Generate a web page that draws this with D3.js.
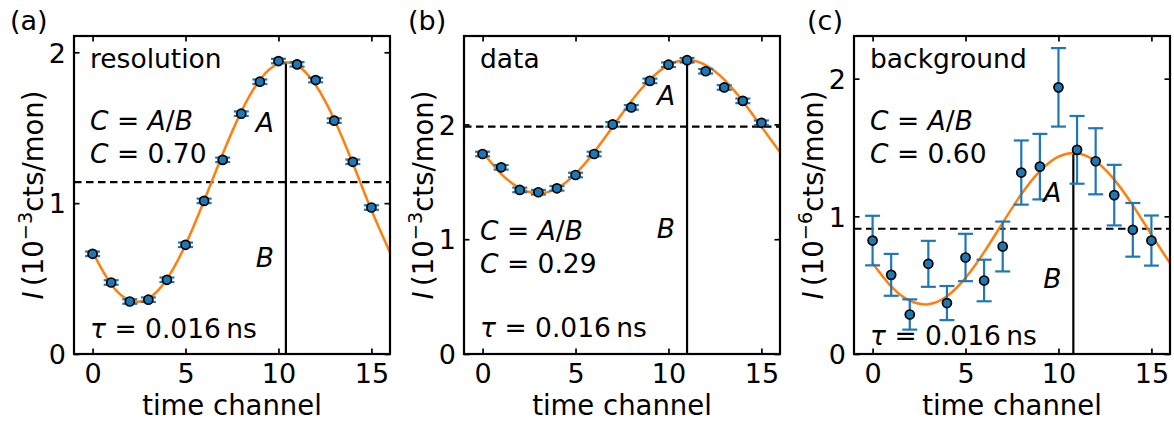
<!DOCTYPE html>
<html>
<head>
<meta charset="utf-8">
<script src="https://cdn.jsdelivr.net/npm/d3@7"></script>
<style>
  html, body { margin: 0; padding: 0; background: #fff; }
  svg { display: block; font-family: "DejaVu Sans", sans-serif; }
</style>
</head>
<body>
<svg id="chart" width="1174" height="423"></svg>
<script>
// ---------------- data ----------------
const channels = [0, 1, 2, 3, 4, 5, 6, 7, 8, 9, 10, 11, 12, 13, 14, 15];

const resolutionValues = [0.664, 0.474, 0.348, 0.360, 0.492, 0.724, 1.015, 1.287, 1.593, 1.805, 1.942, 1.920, 1.816, 1.547, 1.274, 0.971];
const resolutionErrors = [0.015, 0.015, 0.015, 0.015, 0.015, 0.015, 0.015, 0.015, 0.015, 0.015, 0.015, 0.015, 0.015, 0.015, 0.015, 0.015];

const dataValues = [1.742, 1.626, 1.429, 1.409, 1.443, 1.559, 1.742, 2.000, 2.148, 2.379, 2.520, 2.559, 2.463, 2.322, 2.205, 2.014];
const dataErrors = [0.02, 0.02, 0.02, 0.02, 0.02, 0.02, 0.02, 0.02, 0.02, 0.02, 0.02, 0.02, 0.02, 0.02, 0.02, 0.02];

const backgroundValues = [0.824, 0.575, 0.287, 0.655, 0.370, 0.701, 0.534, 0.781, 1.318, 1.361, 1.937, 1.483, 1.400, 1.154, 0.902, 0.824];
const backgroundErrors = [0.180, 0.152, 0.110, 0.167, 0.124, 0.172, 0.151, 0.181, 0.233, 0.238, 0.285, 0.246, 0.240, 0.220, 0.195, 0.182];

// fitted curves, read at integer channels
const fitChannels = [0, 1, 2, 3, 4, 5, 6, 7, 8, 9, 10, 11, 12, 13, 14, 15, 16];
const resolutionFit = [0.676, 0.462, 0.355, 0.367, 0.497, 0.725, 1.016, 1.326, 1.607, 1.818, 1.925, 1.913, 1.783, 1.555, 1.264, 0.954, 0.673];
const dataFit = [1.758, 1.570, 1.444, 1.400, 1.444, 1.570, 1.758, 1.980, 2.202, 2.390, 2.516, 2.560, 2.516, 2.390, 2.202, 1.980, 1.758];
const backgroundFit = [0.660, 0.492, 0.387, 0.362, 0.420, 0.553, 0.740, 0.953, 1.160, 1.328, 1.433, 1.458, 1.400, 1.267, 1.080, 0.867, 0.660];

const meanLevels = [1.14, 1.98, 0.91];        // dashed lines
const peakChannels = [10.4, 11.0, 10.8];      // vertical lines
const peakValues = [1.935, 2.56, 1.46];       // top of vertical lines
const contrastValues = ["0.70", "0.29", "0.60"];
const panelTitles = ["resolution", "data", "background"];
const panelLetters = ["(a)", "(b)", "(c)"];
const unitExponents = ["\u22123", "\u22123", "\u22126"];
const yMaxima = [2.108, 2.77, 2.31];
const xTickValues = [0, 5, 10, 15];
const yTickValues = [0, 1, 2];
const tauText = "0.016";

// ---------------- layout ----------------
const panelLefts = [74, 464, 854];
const panelTop = 36, panelW = 316, panelH = 318;
const letterDx = [-64, -56, -47];
const annot = [
  { cab: [94, 127], tau: 302, A: 96, B: 231 },
  { cab: [204, 237], tau: 301, A: 69, B: 202 },
  { cab: [94, 127], tau: 309, A: 166, B: 252 }
];
const blue = "#1f77b4", orange = "#ff7f0e";
const tickFont = 27, labelFont = 27.5, textFont = 26.5;

const series = [
  { v: resolutionValues, e: resolutionErrors, fit: resolutionFit },
  { v: dataValues, e: dataErrors, fit: dataFit },
  { v: backgroundValues, e: backgroundErrors, fit: backgroundFit }
];

const svg = d3.select("#chart");

series.forEach((s, i) => {
  const g = svg.append("g").attr("transform", `translate(${panelLefts[i]},${panelTop})`);
  const x = d3.scaleLinear().domain([-1, 16]).range([0, panelW]);
  const y = d3.scaleLinear().domain([0, yMaxima[i]]).range([panelH, 0]);

  // reference lines
  g.append("line")
    .attr("x1", 0).attr("x2", panelW)
    .attr("y1", y(meanLevels[i])).attr("y2", y(meanLevels[i]))
    .attr("stroke", "#000").attr("stroke-width", 2.2).attr("stroke-dasharray", "7.5,4.5");
  g.append("line")
    .attr("x1", x(peakChannels[i])).attr("x2", x(peakChannels[i]))
    .attr("y1", y(0)).attr("y2", y(peakValues[i]))
    .attr("stroke", "#000").attr("stroke-width", 2.2);

  // fit curve
  const line = d3.line().x((d, k) => x(fitChannels[k])).y(d => y(d)).curve(d3.curveNatural);
  g.append("path").datum(s.fit)
    .attr("d", line).attr("fill", "none").attr("stroke", orange).attr("stroke-width", 2.5);

  // error bars
  const eb = g.append("g").attr("stroke", blue).attr("stroke-width", 2.2).attr("fill", "none");
  channels.forEach((c, k) => {
    const cx = x(c), y1 = y(s.v[k] - s.e[k]), y2 = y(s.v[k] + s.e[k]);
    eb.append("line").attr("x1", cx).attr("x2", cx).attr("y1", y1).attr("y2", y2);
    eb.append("line").attr("x1", cx - 7.5).attr("x2", cx + 7.5).attr("y1", y1).attr("y2", y1);
    eb.append("line").attr("x1", cx - 7.5).attr("x2", cx + 7.5).attr("y1", y2).attr("y2", y2);
  });

  // markers
  g.append("g").selectAll("circle").data(channels).join("circle")
    .attr("cx", c => x(c)).attr("cy", (c, k) => y(s.v[k]))
    .attr("r", 4.5).attr("fill", blue).attr("stroke", "#000").attr("stroke-width", 1.7);

  // frame
  g.append("rect").attr("x", 0).attr("y", 0).attr("width", panelW).attr("height", panelH)
    .attr("fill", "none").attr("stroke", "#000").attr("stroke-width", 2.2);

  // axes with inward ticks on all sides
  const tickLen = 5.5;
  const axB = g.append("g").attr("transform", `translate(0,${panelH})`)
    .call(d3.axisBottom(x).tickValues(xTickValues).tickSize(-tickLen).tickPadding(0).tickFormat(d3.format("d")));
  axB.selectAll("text").attr("y", 29).attr("dy", 0);
  const axT = g.append("g").call(d3.axisTop(x).tickValues(xTickValues).tickSize(-tickLen).tickFormat(""));
  const axL = g.append("g")
    .call(d3.axisLeft(y).tickValues(yTickValues).tickSize(-tickLen).tickPadding(0).tickFormat(d3.format("d")));
  axL.selectAll("text").attr("x", -8).attr("dy", "0.36em");
  const axR = g.append("g").attr("transform", `translate(${panelW},0)`)
    .call(d3.axisRight(y).tickValues(yTickValues).tickSize(-tickLen).tickFormat(""));
  [axB, axT, axL, axR].forEach(a => {
    a.select(".domain").remove();
    a.selectAll("line").attr("stroke", "#000").attr("stroke-width", 1.7);
    a.selectAll("text").attr("fill", "#000").attr("font-size", tickFont).attr("font-family", "DejaVu Sans");
  });

  // axis labels
  g.append("text").attr("x", panelW / 2).attr("y", panelH + 61)
    .attr("text-anchor", "middle").attr("font-size", labelFont).text("time channel");
  const yl = g.append("text").attr("transform", `translate(-31,${panelH / 2}) rotate(-90)`)
    .attr("text-anchor", "middle").attr("font-size", labelFont);
  yl.append("tspan").attr("font-style", "italic").text("I");
  yl.append("tspan").text("\u2009(10");
  yl.append("tspan").attr("font-size", labelFont * 0.7).attr("dy", -11).text(unitExponents[i]);
  yl.append("tspan").attr("dy", 11).text("cts/mon)");

  // panel letter
  svg.append("text").attr("x", panelLefts[i] + letterDx[i]).attr("y", 30)
    .attr("font-size", tickFont).text(panelLetters[i]);

  // annotations
  const fs = textFont, tx = 16;
  g.append("text").attr("x", tx).attr("y", 32).attr("font-size", fs).text(panelTitles[i]);
  const t1 = g.append("text").attr("x", tx).attr("y", annot[i].cab[0]).attr("font-size", fs).attr("xml:space", "preserve");
  t1.append("tspan").attr("font-style", "italic").text("C");
  t1.append("tspan").text(" = ");
  t1.append("tspan").attr("font-style", "italic").text("A");
  t1.append("tspan").text("/");
  t1.append("tspan").attr("font-style", "italic").text("B");
  const t2 = g.append("text").attr("x", tx).attr("y", annot[i].cab[1]).attr("font-size", fs).attr("xml:space", "preserve");
  t2.append("tspan").attr("font-style", "italic").text("C");
  t2.append("tspan").text(" = " + contrastValues[i]);
  const t3 = g.append("text").attr("x", tx).attr("y", annot[i].tau).attr("font-size", fs).attr("xml:space", "preserve");
  t3.append("tspan").attr("font-style", "italic").text("\u03c4");
  t3.append("tspan").text(" = " + tauText + "\u2009ns");

  g.append("text").attr("x", x(peakChannels[i]) - 12).attr("y", annot[i].A)
    .attr("text-anchor", "end").attr("font-size", fs).attr("font-style", "italic").text("A");
  g.append("text").attr("x", x(peakChannels[i]) - 12).attr("y", annot[i].B)
    .attr("text-anchor", "end").attr("font-size", fs).attr("font-style", "italic").text("B");
});
</script>
</body>
</html>
